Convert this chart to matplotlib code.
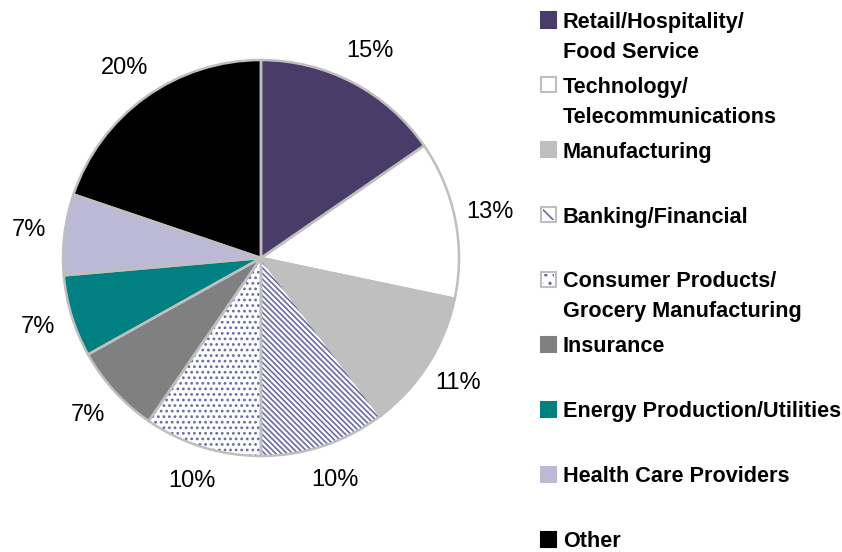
import matplotlib
matplotlib.use("Agg")
import matplotlib.pyplot as plt
from matplotlib.patches import Rectangle

# Data
sectors = [
    "Retail/Hospitality/\nFood Service",
    "Technology/\nTelecommunications",
    "Manufacturing",
    "Banking/Financial",
    "Consumer Products/\nGrocery Manufacturing",
    "Insurance",
    "Energy Production/Utilities",
    "Health Care Providers",
    "Other",
]
shares = [15.4, 12.9, 11.4, 10.3, 9.6, 7.3, 6.7, 6.6, 19.8]
colors = ["#483D69", "#FFFFFF", "#BFBFBF", "#FFFFFF", "#FFFFFF",
          "#808080", "#008080", "#BCB9D6", "#000000"]
hatches = [None, None, None, "\\\\\\\\\\\\", "...", None, None, None, None]
hatch_color = "#6A6AA6"
edge_color = "#BFBFBF"

plt.rcParams["hatch.linewidth"] = 1.2

W, H = 842, 552
fig = plt.figure(figsize=(W / 100, H / 100), dpi=100)

# pie axes: centre (261, 258) px, radius 198 px
cx, cy, r = 261, 258, 198
ax = fig.add_axes([(cx - r) / W, (H - cy - r) / H, 2 * r / W, 2 * r / H])

# filled wedges with hatching (hatch colour comes from edge colour)
wedges, _ = ax.pie(shares, colors=colors, startangle=90, counterclock=False,
                   radius=1, wedgeprops=dict(linewidth=0, edgecolor=hatch_color))
for w, h in zip(wedges, hatches):
    if h:
        w.set_hatch(h)

# outline pass + percentage labels
ax.pie(shares, colors=["none"] * len(shares), startangle=90, counterclock=False,
       radius=1, autopct="%.0f%%", pctdistance=1.18,
       wedgeprops=dict(linewidth=1.8, edgecolor=edge_color, fill=False),
       textprops=dict(fontsize=17, family="Liberation Sans", color="black"))
for t in ax.texts:
    t.set_clip_on(False)
ax.set_xlim(-1, 1)
ax.set_ylim(-1, 1)
ax.axis("off")

# legend, built by hand so the slots are evenly spaced
top_center = 20
step = 64.9
line_gap = 30
fs = 15.6
for i, (lab, col, h) in enumerate(zip(sectors, colors, hatches)):
    yc = top_center + i * step
    sq = 15
    ec = edge_color if col == "#FFFFFF" else col
    fig.patches.append(Rectangle((541 / W, (H - yc - sq / 2) / H), sq / W, sq / H,
                                 transform=fig.transFigure, facecolor=col,
                                 edgecolor=ec, linewidth=1.5))
    if h:
        fig.patches.append(Rectangle((543 / W, (H - yc - sq / 2 + 2) / H), (sq - 4) / W, (sq - 4) / H,
                                     transform=fig.transFigure, facecolor="none",
                                     edgecolor=hatch_color, linewidth=0, hatch=h[:2]))
    for j, line in enumerate(lab.split("\n")):
        fig.text(563 / W, (H - (yc + j * line_gap) - 7.8) / H, line, fontsize=fs,
                 fontweight="bold", family="Liberation Sans", va="baseline", ha="left")

fig.savefig("out.png", dpi=100)
